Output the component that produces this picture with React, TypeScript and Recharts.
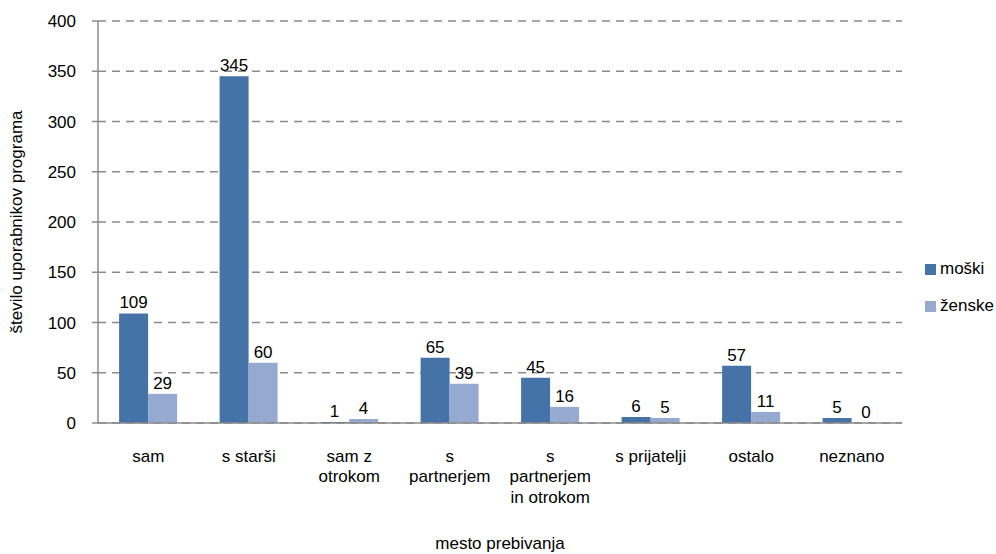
import React from 'react';
import {
  BarChart,
  Bar,
  XAxis,
  YAxis,
  CartesianGrid,
  Legend,
  LabelList,
} from 'recharts';

// Living situation categories (each entry is the wrapped label lines)
const categories: string[][] = [
  ['sam'],
  ['s starši'],
  ['sam z', 'otrokom'],
  ['s', 'partnerjem'],
  ['s', 'partnerjem', 'in otrokom'],
  ['s prijatelji'],
  ['ostalo'],
  ['neznano'],
];

const moski: number[] = [109, 345, 1, 65, 45, 6, 57, 5];
const zenske: number[] = [29, 60, 4, 39, 16, 5, 11, 0];

const yTicks: number[] = [0, 50, 100, 150, 200, 250, 300, 350, 400];

const seriesNames = { moski: 'moški', zenske: 'ženske' };
const seriesColors = { moski: '#4572A7', zenske: '#95A9D1' };

const data = categories.map((lines, i) => ({
  name: lines.join(' '),
  lines,
  moski: moski[i],
  zenske: zenske[i],
}));

const FONT = '"Liberation Sans", Arial, sans-serif';
const AXIS_GRAY = '#8a8a8a';

// keeps zero-valued bars in the layout so their value label is still drawn
const keepZeroBars = (value: any) => (Number(value) === 0 ? 0.01 : 0);

const CategoryTick = (props: any) => {
  const { x, y, index } = props;
  const lines = categories[index] || [];
  return (
    <g>
      {lines.map((line, k) => (
        <text
          key={k}
          x={x}
          y={y + 38.5 + k * 20.5}
          textAnchor="middle"
          fontSize={17}
          fontFamily={FONT}
          fill="#000"
        >
          {line}
        </text>
      ))}
    </g>
  );
};

// Value label drawn just above the top of each bar
const ValueLabel = (props: any) => {
  const { x, y, width, value } = props;
  if (value === undefined || value === null) return null;
  return (
    <text
      x={Number(x) + Number(width) / 2}
      y={Number(y) - 5}
      textAnchor="middle"
      fontSize={17}
      fontFamily={FONT}
      fill="#000"
    >
      {String(value)}
    </text>
  );
};

const LegendContent = (props: any) => {
  const { payload } = props;
  return (
    <div style={{ fontFamily: FONT, fontSize: 17, color: '#000' }}>
      {(payload || []).map((entry: any, i: number) => (
        <div
          key={i}
          style={{
            display: 'flex',
            alignItems: 'center',
            height: 20,
            marginBottom: 17,
          }}
        >
          <span
            style={{
              display: 'inline-block',
              width: 11,
              height: 11,
              background: entry.color,
              marginRight: 4,
            }}
          />
          <span>{entry.value}</span>
        </div>
      ))}
    </div>
  );
};

export default function App() {
  return (
    <div
      style={{
        position: 'absolute',
        left: 0,
        top: 0,
        width: 996,
        height: 554,
        background: '#fff',
      }}
    >
      <BarChart
        width={996}
        height={554}
        data={data}
        margin={{ top: 21, right: 94, left: 0, bottom: 0 }}
        barCategoryGap="21%"
        barGap={0}
      >
        <CartesianGrid
          vertical={false}
          stroke={AXIS_GRAY}
          strokeWidth={1.5}
          strokeDasharray="8 6"
        />
        <XAxis
          dataKey="name"
          height={131}
          tickLine={false}
          tickSize={0}
          tickMargin={0}
          interval={0}
          axisLine={{ stroke: AXIS_GRAY, strokeWidth: 1.5 }}
          tick={<CategoryTick />}
          label={({ viewBox }: any) => (
            <text
              x={viewBox.x + viewBox.width / 2}
              y={549}
              textAnchor="middle"
              fontSize={17}
              fontFamily={FONT}
              fill="#000"
            >
              mesto prebivanja
            </text>
          )}
        />
        <YAxis
          width={98}
          domain={[0, 400]}
          ticks={yTicks}
          interval={0}
          tickSize={6}
          tickMargin={16}
          tickLine={{ stroke: AXIS_GRAY, strokeWidth: 1.5 }}
          axisLine={{ stroke: AXIS_GRAY, strokeWidth: 1.5 }}
          tick={{ fill: '#000', fontSize: 17, fontFamily: FONT }}
          label={({ viewBox }: any) => {
            const cy = viewBox.y + viewBox.height / 2;
            return (
              <text
                x={21.5}
                y={cy}
                transform={`rotate(-90, 21.5, ${cy})`}
                textAnchor="middle"
                fontSize={17}
                fontFamily={FONT}
                fill="#000"
              >
                število uporabnikov programa
              </text>
            );
          }}
        />
        <Legend
          layout="vertical"
          align="center"
          verticalAlign="middle"
          content={<LegendContent />}
          wrapperStyle={{ position: 'absolute', left: 925, top: 259, width: 80 }}
        />
        <Bar
          dataKey="moski"
          name={seriesNames.moski}
          fill={seriesColors.moski}
          minPointSize={keepZeroBars}
          isAnimationActive={false}
        >
          <LabelList dataKey="moski" content={<ValueLabel />} />
        </Bar>
        <Bar
          dataKey="zenske"
          name={seriesNames.zenske}
          fill={seriesColors.zenske}
          minPointSize={keepZeroBars}
          isAnimationActive={false}
        >
          <LabelList dataKey="zenske" content={<ValueLabel />} />
        </Bar>
      </BarChart>
    </div>
  );
}
